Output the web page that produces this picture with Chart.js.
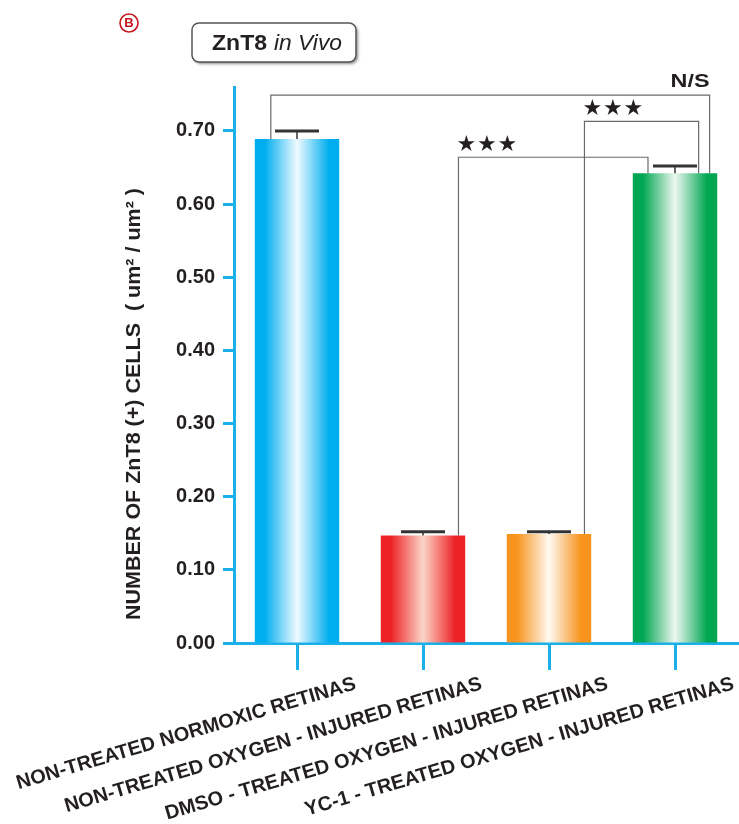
<!DOCTYPE html>
<html>
<head>
<meta charset="utf-8">
<title>ZnT8 in Vivo</title>
<script src="https://cdn.jsdelivr.net/npm/chart.js@4.4.1/dist/chart.umd.min.js"></script>
<style>
    body { margin: 0; background: #fff; }
    #wrap { width: 739px; height: 824px; }
</style>
</head>
<body>
<div id="wrap"><canvas id="chart" width="739" height="824"></canvas></div>
<script>
// Datos del gráfico
const groups = [
    'NON-TREATED NORMOXIC RETINAS',
    'NON-TREATED OXYGEN - INJURED RETINAS',
    'DMSO - TREATED OXYGEN - INJURED RETINAS',
    'YC-1 - TREATED OXYGEN - INJURED RETINAS'
];
const meanArea = [0.689, 0.147, 0.149, 0.642];
const semArea = [0.011, 0.005, 0.003, 0.010];
const yTicks = [0, 0.1, 0.2, 0.3, 0.4, 0.5, 0.6, 0.7];

// Comparaciones (desde, hasta, nivel, etiqueta)
const compFrom = [0, 2, 1];
const compTo = [3, 3, 3];
const compLevel = [0.749, 0.713, 0.664];
const compLabel = ['N/S', '★★★', '★★★'];

// Estilos
const axisBlue = '#1cb0ea';
const barBase = ['#00aeef', '#ed2227', '#f7941d', '#00a651'];
const barLight = ['#f0faff', '#fbd6c8', '#fffaf3', '#eef8f1'];
const barPct = 0.67;
// posición de las patas de cada corchete, en fracción del ancho de barra
const legShift = [[-0.31, 0.41], [0.42, 0.28], [0.42, -0.32]];
const labelSide = ['right', 'left', 'left'];

function mix(a, b, t) {
    const pa = [1, 3, 5].map(i => parseInt(a.substr(i, 2), 16));
    const pb = [1, 3, 5].map(i => parseInt(b.substr(i, 2), 16));
    const c = pa.map((v, i) => Math.round(v + (pb[i] - v) * t));
    return 'rgb(' + c.join(',') + ')';
}

// Degradado horizontal tipo cilindro para cada barra
function barGradient(c) {
    const chart = c.chart;
    const i = c.dataIndex;
    if (!chart.chartArea || i === undefined) return barBase[i || 0];
    const xs = chart.scales.x;
    const cx = xs.getPixelForValue(i);
    const half = xs.width / groups.length * barPct / 2;
    const g = chart.ctx.createLinearGradient(cx - half, 0, cx + half, 0);
    g.addColorStop(0, barBase[i]);
    g.addColorStop(0.12, barBase[i]);
    g.addColorStop(0.33, mix(barBase[i], barLight[i], 0.55));
    g.addColorStop(0.5, barLight[i]);
    g.addColorStop(0.67, mix(barBase[i], barLight[i], 0.55));
    g.addColorStop(0.88, barBase[i]);
    g.addColorStop(1, barBase[i]);
    return g;
}

// Texto ajustado a un ancho dado
function fitText(ctx, text, x, y, width) {
    const w = ctx.measureText(text).width;
    ctx.save();
    ctx.translate(x, y);
    ctx.scale(width / w, 1);
    ctx.fillText(text, 0, 0);
    ctx.restore();
}

function roundRect(ctx, x, y, w, h, r) {
    ctx.beginPath();
    ctx.moveTo(x + r, y);
    ctx.arcTo(x + w, y, x + w, y + h, r);
    ctx.arcTo(x + w, y + h, x, y + h, r);
    ctx.arcTo(x, y + h, x, y, r);
    ctx.arcTo(x, y, x + w, y, r);
    ctx.closePath();
}

const annotations = {
    id: 'annotations',
    afterDatasetsDraw(chart) {
        const ctx = chart.ctx;
        const xs = chart.scales.x;
        const ys = chart.scales.y;
        const barW = xs.width / groups.length * barPct;

        // Barras de error
        ctx.save();
        ctx.strokeStyle = '#333';
        meanArea.forEach((m, i) => {
            const x = xs.getPixelForValue(i);
            const yTop = ys.getPixelForValue(m);
            const yErr = ys.getPixelForValue(m + semArea[i]);
            ctx.lineWidth = 1.5;
            ctx.beginPath();
            ctx.moveTo(x, yTop);
            ctx.lineTo(x, yErr);
            ctx.stroke();
            ctx.lineWidth = 3;
            ctx.beginPath();
            ctx.moveTo(x - 22, yErr);
            ctx.lineTo(x + 22, yErr);
            ctx.stroke();
        });
        ctx.restore();

        // Corchetes de significancia
        ctx.save();
        ctx.strokeStyle = '#6a6a6a';
        ctx.lineWidth = 1.2;
        ctx.fillStyle = '#231f20';
        compFrom.forEach((a, k) => {
            const b = compTo[k];
            const xa = xs.getPixelForValue(a) + legShift[k][0] * barW;
            const xb = xs.getPixelForValue(b) + legShift[k][1] * barW;
            const yl = ys.getPixelForValue(compLevel[k]);
            ctx.beginPath();
            ctx.moveTo(xa, ys.getPixelForValue(meanArea[a]));
            ctx.lineTo(xa, yl);
            ctx.lineTo(xb, yl);
            ctx.lineTo(xb, ys.getPixelForValue(meanArea[b]));
            ctx.stroke();

            if (compLabel[k] === 'N/S') {
                ctx.font = 'bold 19px "Liberation Sans", Arial, sans-serif';
                ctx.textAlign = 'right';
                ctx.textBaseline = 'alphabetic';
                fitText(ctx, compLabel[k], xb, yl - 8, 39);
            } else {
                ctx.font = '22px "DejaVu Sans", sans-serif';
                ctx.textAlign = 'center';
                ctx.textBaseline = 'middle';
                const x0 = (labelSide[k] === 'left' ? xa : xb - 56) + 8;
                Array.from(compLabel[k]).forEach((s, j) => {
                    ctx.fillText(s, x0 + j * 20.5, yl - 12);
                });
            }
        });
        ctx.restore();
    },
    afterDraw(chart) {
        const ctx = chart.ctx;
        const xs = chart.scales.x;
        const area = chart.chartArea;

        // Etiquetas del eje X giradas
        ctx.save();
        ctx.fillStyle = '#231f20';
        ctx.font = 'bold 20px "Liberation Sans", Arial, sans-serif';
        ctx.textAlign = 'right';
        ctx.textBaseline = 'alphabetic';
        groups.forEach((g, i) => {
            ctx.save();
            ctx.translate(xs.getPixelForValue(i) + 60, area.bottom + 46);
            ctx.rotate(-16.5 * Math.PI / 180);
            ctx.fillText(g, 0, 0);
            ctx.restore();
        });
        ctx.restore();

        // Título del eje Y
        ctx.save();
        ctx.fillStyle = '#231f20';
        ctx.font = 'bold 21px "Liberation Sans", Arial, sans-serif';
        ctx.textAlign = 'center';
        ctx.textBaseline = 'middle';
        ctx.translate(134, 404);
        ctx.rotate(-Math.PI / 2);
        fitText(ctx, 'NUMBER OF ZnT8 (+) CELLS  ( um² / um² )', 0, 0, 432);
        ctx.restore();

        // Recuadro del título
        ctx.save();
        ctx.shadowColor = 'rgba(0,0,0,0.45)';
        ctx.shadowBlur = 3;
        ctx.shadowOffsetX = 2;
        ctx.shadowOffsetY = 2;
        roundRect(ctx, 192, 23, 164, 39, 7);
        ctx.fillStyle = '#fff';
        ctx.fill();
        ctx.restore();
        ctx.save();
        roundRect(ctx, 192, 23, 164, 39, 7);
        ctx.strokeStyle = '#555';
        ctx.lineWidth = 1.5;
        ctx.stroke();
        ctx.fillStyle = '#231f20';
        ctx.textAlign = 'left';
        ctx.textBaseline = 'alphabetic';
        ctx.font = 'bold 22px "Liberation Sans", Arial, sans-serif';
        fitText(ctx, 'ZnT8', 212, 50, 55);
        ctx.font = 'italic 22px "Liberation Sans", Arial, sans-serif';
        fitText(ctx, 'in Vivo', 274, 50, 68);
        ctx.restore();

        // Letra del panel
        ctx.save();
        ctx.strokeStyle = '#c4161c';
        ctx.lineWidth = 1.6;
        ctx.beginPath();
        ctx.arc(129, 23, 9, 0, Math.PI * 2);
        ctx.stroke();
        ctx.fillStyle = '#c4161c';
        ctx.font = 'bold 13px "Liberation Sans", Arial, sans-serif';
        ctx.textAlign = 'center';
        ctx.textBaseline = 'middle';
        ctx.fillText('B', 129, 23.5);
        ctx.restore();
    }
};

const ctx = document.getElementById('chart').getContext('2d');
new Chart(ctx, {
    type: 'bar',
    data: {
        labels: groups,
        datasets: [{
            data: meanArea,
            backgroundColor: barGradient,
            borderWidth: 0,
            barPercentage: barPct,
            categoryPercentage: 1
        }]
    },
    options: {
        responsive: false,
        animation: false,
        devicePixelRatio: 1,
        events: [],
        layout: { padding: { top: 87, right: 1, left: 0, bottom: 0 } },
        plugins: {
            legend: { display: false },
            tooltip: { enabled: false }
        },
        scales: {
            x: {
                offset: true,
                afterFit: s => { s.height = 181; },
                grid: {
                    drawOnChartArea: false,
                    offset: false,
                    tickLength: 27,
                    tickWidth: 3,
                    tickColor: axisBlue
                },
                border: { color: axisBlue, width: 3 },
                ticks: { display: false }
            },
            y: {
                min: 0,
                max: 0.76,
                afterFit: s => { s.width = 234; },
                afterBuildTicks: s => { s.ticks = yTicks.map(v => ({ value: v })); },
                grid: {
                    drawOnChartArea: false,
                    tickLength: 11,
                    tickWidth: 3,
                    tickColor: axisBlue
                },
                border: { color: axisBlue, width: 3 },
                ticks: {
                    color: '#231f20',
                    padding: 8,
                    font: { family: '"Liberation Sans", Arial, sans-serif', size: 20, weight: 'bold' },
                    callback: v => v.toFixed(2)
                }
            }
        }
    },
    plugins: [annotations]
});
</script>
</body>
</html>
